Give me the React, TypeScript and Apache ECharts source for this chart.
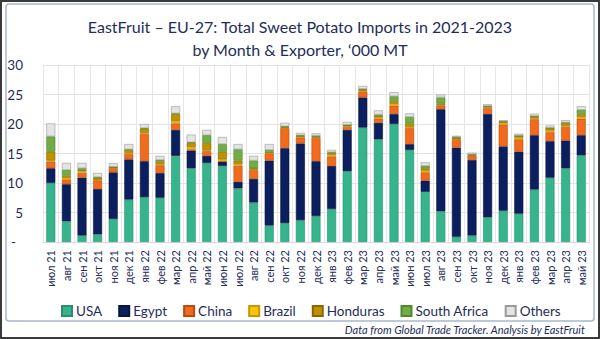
import React, { useEffect, useRef } from "react";
import * as echarts from "echarts";

const categories = [
  "июл 21", "авг 21", "сен 21", "окт 21", "ноя 21", "дек 21", "янв 22", "фев 22", "мар 22", "апр 22", "май 22",
  "июн 22", "июл 22", "авг 22", "сен 22", "окт 22", "ноя 22", "дек 22", "янв 23", "фев 23", "мар 23", "апр 23", "май 23",
  "июн 23", "июл 23", "авг 23", "сен 23", "окт 23", "ноя 23", "дек 23", "янв 23", "фев 23", "мар 23", "апр 23", "май 23",
];

const usa = [10, 3.5, 1.1, 1.3, 3.9, 7.2, 7.6, 7.5, 14.6, 12.5, 13.4, 12.9, 9.1, 6.7, 2.8, 3.2, 3.7, 4.4, 5.6, 12.0, 19.4, 17.4, 20.0, 15.6, 8.5, 5.2, 0.9, 1.1, 4.2, 5.3, 4.8, 8.9, 10.9, 12.5, 14.7];
const egypt = [2.5, 6.3, 9.8, 7.7, 7.9, 6.8, 6.1, 4.2, 4.4, 3.0, 1.2, 0.7, 1.1, 4.0, 11.0, 12.7, 13.0, 9.3, 7.3, 7.0, 5.1, 2.8, 1.7, 1.0, 1.9, 17.3, 15.1, 12.8, 17.5, 10.9, 10.5, 9.2, 6.2, 4.7, 3.4];
const china = [1.1, 0.8, 0.8, 1.4, 0.7, 0.9, 4.6, 1.3, 1.1, 0.2, 0.8, 0.1, 2.7, 1.5, 1.2, 3.4, 1.0, 3.9, 1.6, 0.5, 1.0, 0.7, 1.4, 2.7, 1.4, 0.6, 1.3, 0.7, 1.0, 3.7, 2.1, 2.7, 1.5, 2.3, 2.8];
const brazil = [0.2, 0.3, 0.3, 0.1, 0.05, 0.2, 0.2, 0.2, 0.4, 0.4, 0.2, 0.3, 0.3, 0.1, 0.1, 0.1, 0.1, 0.1, 0.3, 0.15, 0.15, 0.2, 0.3, 0.2, 0.3, 0.1, 0.1, 0.1, 0.15, 0.3, 0.3, 0.2, 0.3, 0.2, 0.3];
const honduras = [1.5, 0.3, 0.2, 0.4, 0.15, 0.5, 0.7, 0.5, 1.2, 0.7, 1.2, 1.3, 0.6, 0.2, 0.2, 0.1, 0.2, 0.2, 0.3, 0.15, 0.2, 0.3, 0.5, 0.6, 0.4, 0.3, 0.3, 0.1, 0.15, 0.2, 0.3, 0.3, 0.4, 0.5, 0.5];
const southAfrica = [2.6, 1.0, 0.3, 0.1, 0.05, 0.1, 0.1, 0.2, 0.1, 0.1, 1.3, 1.3, 1.9, 1.3, 0.3, 0.1, 0.1, 0.1, 0.1, 0.05, 0.1, 0.2, 0.8, 1.1, 0.4, 1.0, 0.1, 0.05, 0.05, 0.05, 0.05, 0.05, 0.05, 0.05, 0.7];
const others = [2.2, 1.2, 0.9, 0.7, 0.6, 0.9, 0.7, 0.7, 1.2, 1.3, 0.9, 1.2, 0.9, 0.8, 1.0, 0.6, 0.4, 0.4, 0.4, 0.5, 0.5, 0.7, 0.7, 0.6, 0.6, 0.5, 0.2, 0.3, 0.3, 0.2, 0.3, 0.4, 0.4, 0.4, 0.6];

const seriesDefs = [
  { name: "USA", data: usa, color: "#36b58c", border: "#2a8f6e" },
  { name: "Egypt", data: egypt, color: "#0b1f5e", border: "#071440" },
  { name: "China", data: china, color: "#f26a1b", border: "#b94c0f" },
  { name: "Brazil", data: brazil, color: "#ffc20e", border: "#c99600" },
  { name: "Honduras", data: honduras, color: "#bf9000", border: "#8a6800" },
  { name: "South Africa", data: southAfrica, color: "#70ad47", border: "#4f8a2e" },
  { name: "Others", data: others, color: "#e4e4e4", border: "#9a9a9a" },
];

const FONT = "Lato, 'Noto Sans', sans-serif";
const NAVY = "#1f2d5a";

export default function App() {
  const ref = useRef<HTMLDivElement>(null);
  useEffect(() => {
    document.body.style.margin = "0";
    const chart = echarts.init(ref.current!, null, { renderer: "svg" });
    chart.setOption({
      animation: false,
      backgroundColor: "#ffffff",
      textStyle: { fontFamily: FONT },
      title: {
        text: "EastFruit – EU-27: Total Sweet Potato Imports in 2021-2023\nby Month & Exporter, ‘000 MT",
        left: "center",
        top: 10,
        textStyle: { fontFamily: FONT, fontSize: 16, fontWeight: "normal", color: NAVY, lineHeight: 23 },
      },
      legend: {
        left: 56,
        top: 299,
        width: 560,
        itemWidth: 10,
        itemHeight: 10,
        itemGap: 16,
        icon: "rect",
        textStyle: { fontFamily: FONT, fontSize: 13.5, color: NAVY, padding: [0, 0, 0, -1] },
        data: seriesDefs.map((s) => s.name),
      },
      grid: { left: 43, right: 11, top: 65, bottom: 97, containLabel: false },
      xAxis: {
        type: "category",
        data: categories,
        axisTick: { show: false },
        axisLine: { show: true, lineStyle: { color: "#d9d9d9" } },
        splitLine: { show: true, interval: 0, lineStyle: { color: "#e6e6e6" } },
        axisLabel: { interval: 0, rotate: 90, fontSize: 11, color: NAVY, margin: 8, fontFamily: FONT },
      },
      yAxis: {
        type: "value",
        min: 0,
        max: 30,
        interval: 5,
        axisLine: { show: false },
        axisTick: { show: false },
        splitLine: { lineStyle: { color: "#e3e3e3" } },
        axisLabel: {
          fontSize: 13.5,
          color: NAVY,
          margin: 20,
          fontFamily: FONT,
          formatter: (v: number) => (v === 0 ? "-  " : String(v)),
        },
      },
      series: seriesDefs.map((s) => ({
        name: s.name,
        type: "bar",
        stack: "total",
        barWidth: 9,
        data: s.data,
        itemStyle: { color: s.color, borderColor: s.border, borderWidth: 0.6 },
      })),
      graphic: [
        {
          type: "rect",
          shape: { x: 1, y: 1, width: 598, height: 337 },
          style: { fill: "none", stroke: "#3a3a3a", lineWidth: 2 },
          silent: true,
        },
        {
          type: "rect",
          shape: { x: 6, y: 4, width: 588, height: 317, r: 3 },
          style: { fill: "none", stroke: "#a9b6cc", lineWidth: 1.5 },
          silent: true,
        },
        {
          type: "text",
          right: 14,
          top: 324,
          style: {
            text: "Data from Global Trade Tracker. Analysis by EastFruit",
            fill: NAVY,
            font: "italic 11px Lato, 'Noto Sans', sans-serif",
          },
          silent: true,
        },
      ],
    });
    return () => chart.dispose();
  }, []);
  return <div ref={ref} style={{ width: 600, height: 339 }} />;
}
